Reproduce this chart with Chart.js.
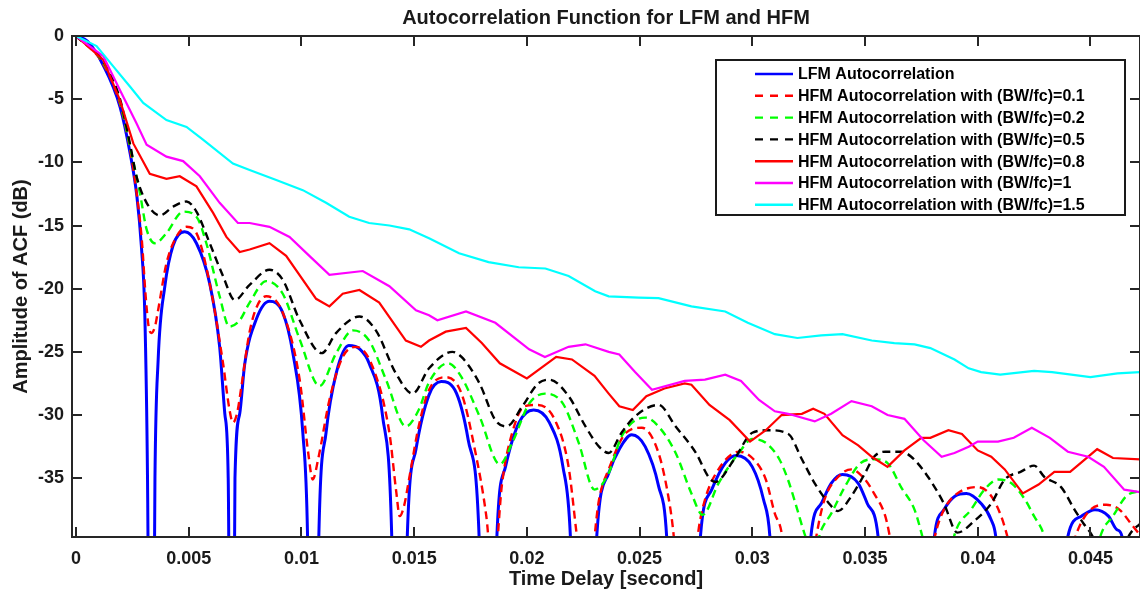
<!DOCTYPE html>
<html>
<head>
<meta charset="utf-8">
<script src="https://cdn.jsdelivr.net/npm/chart.js@4.4.1/dist/chart.umd.min.js"></script>
<style>
  html, body { margin: 0; padding: 0; background: #fff; }
</style>
</head>
<body>
<canvas id="acf" width="1140" height="599"></canvas>
<script>
// every series is a list of [time delay in ms, amplitude in dB]
// values below the axis (-39.65) stand for the nulls that leave the plot
const lfm = [[0,0],[0.5,-0.4],[1.2,-2.3],[1.95,-5.6],[2.4,-9.3],[2.7,-12.7],[2.9,-16.7],[3.05,-22],[3.17,-35],[3.34,-75],[3.5,-35],
  [3.64,-25.7],[3.94,-19.8],[4.3,-16.6],[4.82,-15.5],[5.34,-16.4],[5.93,-19.6],[6.37,-24.6],[6.6,-29.9],[6.75,-35],[6.9,-75],
  [7.05,-35],[7.26,-29.9],[7.48,-26],[8.0,-22.4],[8.58,-21.0],[9.17,-21.9],[9.62,-25.1],[10.06,-31.4],[10.27,-39.6],[10.52,-75],
  [10.77,-39.6],[11.09,-31.4],[11.54,-26.7],[12.1,-24.5],[12.6,-24.8],[13.0,-25.9],[13.6,-30.1],[14.0,-39.3],[14.35,-75],
  [14.7,-39.3],[15.08,-32.7],[15.66,-28.4],[16.2,-27.35],[16.8,-28.0],[17.4,-32.0],[17.88,-39.6],[18.3,-75],[18.67,-39.6],
  [19.05,-34.1],[19.65,-30.6],[20.3,-29.6],[21.0,-30.6],[21.6,-34.1],[21.93,-39.6],[22.5,-75],[23.1,-39.6],[23.63,-34.6],
  [24.1,-32.7],[24.65,-31.56],[25.25,-32.5],[25.84,-35.6],[26.2,-39.6],[26.95,-75],[27.7,-39.6],[28.2,-35.9],[28.8,-33.8],
  [29.3,-33.2],[30.0,-34.1],[30.5,-36.7],[30.78,-39.6],[31.7,-75],[32.6,-39.6],[33.06,-37.0],[33.5,-35.4],[34.0,-34.7],
  [34.7,-35.4],[35.1,-37.0],[35.58,-39.6],[36.8,-75],[38.08,-39.6],[38.5,-37.5],[39.0,-36.4],[39.5,-36.2],[40.15,-37.0],
  [40.6,-38.3],[40.8,-39.6],[42.4,-75],[44.0,-39.6],[44.6,-38.0],[45.2,-37.5],[45.8,-38.0],[46.2,-39.1],[46.4,-39.6],[46.8,-75]];

const hfm01 = [[0,0],[1.2,-2.2],[1.95,-5.4],[2.4,-9.0],[2.7,-12.6],[2.92,-16.2],[3.08,-20.4],[3.22,-23.0],[3.35,-23.5],[3.5,-23.0],
  [3.64,-21.7],[4.01,-18.0],[4.45,-15.9],[4.9,-15.1],[5.34,-15.6],[5.93,-19.6],[6.52,-25.9],[6.8,-29.5],[6.96,-30.6],[7.15,-29.8],
  [7.33,-27.8],[7.7,-23.4],[8.05,-21.3],[8.44,-20.6],[9.17,-21.9],[9.92,-27.2],[10.3,-33.0],[10.5,-35.1],[10.75,-33.4],
  [11.24,-28.8],[11.83,-25.4],[12.42,-24.6],[13.16,-26.2],[13.9,-31.4],[14.2,-36.0],[14.36,-38.0],[14.55,-37.2],[14.78,-35.0],
  [15.2,-30.9],[15.66,-28.0],[16.4,-27.0],[17.1,-28.3],[17.7,-32.8],[18.2,-38.0],[18.5,-43],[18.9,-35.4],[19.35,-31.4],
  [19.9,-29.3],[20.5,-29.2],[21.3,-30.6],[21.85,-34.1],[22.2,-39.3],[22.6,-45],[23.2,-36.7],[23.63,-34.3],[24.4,-31.4],
  [25.1,-31.0],[25.84,-33.0],[26.3,-36.7],[26.5,-39.3],[27.0,-50],[27.6,-39.3],[27.9,-36.7],[28.5,-34.3],[29.4,-32.9],
  [30.0,-33.4],[30.6,-35.1],[31.0,-37.8],[31.3,-39.3],[32.0,-50],[32.84,-39.6],[33.2,-36.7],[33.8,-34.9],[34.4,-34.3],
  [35.0,-35.1],[35.4,-36.2],[35.9,-38.0],[36.1,-39.6],[37.1,-50],[38.1,-39.6],[38.5,-37.5],[39.1,-36.2],[40.0,-35.7],
  [40.6,-36.4],[41.04,-38.0],[41.3,-39.5],[42.8,-50],[44.4,-39.3],[45.0,-37.5],[45.7,-37.1],[46.3,-37.5],[46.8,-38.6],[47.2,-39.5]];

const hfm02 = [[0,0],[1.2,-2.1],[1.95,-5.2],[2.4,-8.8],[2.83,-12.4],[3.13,-15.3],[3.5,-16.4],[4.01,-15.6],[4.75,-13.9],[5.34,-14.3],
  [5.78,-16.4],[6.37,-20.6],[6.8,-23.0],[7.26,-22.5],[7.7,-21.1],[8.44,-19.4],[9.17,-20.4],[9.92,-24.0],[10.8,-27.7],[11.54,-25.1],
  [12.28,-23.3],[13.0,-24.1],[13.75,-27.2],[14.63,-30.9],[15.2,-29.6],[15.66,-27.4],[16.5,-25.9],[17.1,-27.0],[17.9,-30.1],
  [18.8,-33.9],[19.35,-32.2],[20.1,-29.1],[20.8,-28.3],[21.6,-29.1],[22.3,-32.2],[23.0,-35.9],[23.63,-34.6],[24.2,-31.7],
  [25.25,-30.2],[25.84,-30.9],[26.6,-33.0],[27.3,-36.2],[27.8,-37.9],[28.5,-35.4],[29.4,-33.0],[30.0,-31.9],[30.6,-32.2],
  [31.2,-33.5],[31.6,-35.2],[32.0,-37.5],[32.3,-39.3],[32.7,-41],[33.06,-39.1],[33.5,-37.8],[34.1,-35.7],[34.8,-33.8],
  [35.4,-33.5],[36.0,-33.8],[36.6,-35.7],[37.2,-37.5],[37.5,-39.3],[38.3,-45],[39.0,-39.3],[39.7,-37.5],[40.3,-35.9],
  [40.9,-35.1],[41.5,-35.4],[42.1,-36.7],[42.5,-38.0],[42.9,-39.3],[44.2,-48],[45.5,-39.3],[46.0,-38.0],[46.6,-36.4],[47.2,-36.0]];

const hfm05 = [[0,0],[1.2,-2.0],[1.95,-5.0],[2.4,-8.6],[2.68,-11.1],[3.13,-13.2],[3.72,-14.2],[4.31,-13.5],[4.9,-13.1],[5.34,-13.9],
  [5.93,-16.4],[6.52,-19.0],[7.04,-20.9],[7.7,-19.7],[8.58,-18.5],[9.17,-19.3],[9.92,-22.5],[10.9,-25.1],[11.54,-23.5],
  [12.57,-22.2],[13.3,-23.3],[14.19,-26.7],[14.93,-28.3],[15.66,-26.3],[16.7,-25.0],[17.1,-25.4],[17.9,-27.5],[18.6,-30.4],
  [19.1,-30.9],[19.8,-29.3],[20.5,-27.5],[21.0,-27.2],[21.85,-28.5],[22.6,-30.9],[23.2,-32.5],[23.63,-33.0],[24.2,-31.4],
  [24.8,-30.1],[25.84,-29.2],[26.6,-30.9],[27.5,-33.0],[28.06,-34.9],[28.35,-35.3],[29.2,-33.5],[30.0,-31.4],[30.7,-31.2],
  [31.6,-31.5],[32.2,-33.5],[32.77,-35.4],[33.36,-36.9],[33.8,-37.6],[34.4,-36.4],[35.0,-34.6],[35.4,-33.3],[35.9,-32.9],
  [36.6,-32.9],[37.05,-33.3],[37.8,-34.9],[38.5,-37.0],[39.1,-39.3],[39.9,-38.3],[40.6,-37.0],[41.2,-35.1],[41.9,-34.5],
  [42.5,-34.0],[42.96,-34.9],[43.7,-35.7],[44.3,-37.5],[44.7,-38.6],[45.0,-39.3],[45.9,-42],[46.8,-39.3],[47.2,-38.6]];

const hfm08 = [[0,0],[1.21,-1.9],[1.95,-5.1],[2.54,-8.5],[3.27,-10.9],[4.01,-11.3],[4.6,-11.1],[5.34,-11.9],[6.08,-14.0],
  [6.67,-15.9],[7.26,-17.1],[7.7,-16.9],[8.58,-16.4],[9.32,-17.4],[10.65,-20.8],[11.24,-21.4],[11.83,-20.4],[12.57,-20.1],
  [13.45,-21.1],[14.63,-24.1],[15.3,-24.6],[15.66,-24.1],[16.4,-23.4],[17.3,-23.1],[18.0,-24.3],[18.8,-25.9],[20.0,-27.1],
  [21.3,-25.4],[22.0,-25.6],[23.0,-26.9],[23.63,-28.3],[24.1,-29.3],[24.7,-29.6],[25.3,-28.5],[26.1,-27.9],[27.0,-27.5],
  [27.3,-27.6],[28.1,-29.2],[29.0,-30.4],[29.9,-32.1],[30.6,-31.2],[31.3,-30.0],[32.2,-29.9],[32.7,-29.5],[33.2,-29.9],
  [34.0,-31.6],[34.7,-32.4],[35.3,-33.3],[36.0,-34.1],[36.75,-32.8],[37.5,-31.8],[37.9,-31.8],[38.7,-31.2],[39.3,-31.5],
  [40.0,-32.8],[40.6,-33.3],[41.2,-34.3],[42.0,-36.2],[42.7,-35.5],[43.4,-34.5],[44.1,-34.5],[45.3,-32.7],[46.0,-33.4],[47.2,-33.5]];

const hfm1 = [[0,0],[1.21,-1.6],[1.95,-4.3],[2.68,-6.9],[3.13,-8.6],[4.01,-9.55],[4.75,-9.9],[5.49,-11.1],[6.37,-13.2],
  [7.18,-14.8],[7.7,-14.8],[8.58,-15.1],[9.47,-15.9],[10.35,-17.4],[11.24,-18.9],[12.72,-18.6],[13.9,-19.8],[15.08,-21.7],
  [15.66,-22.1],[16.03,-22.5],[17.3,-21.8],[18.6,-22.7],[20.1,-24.8],[20.8,-25.4],[21.85,-24.6],[22.6,-24.4],[23.63,-25.0],
  [24.1,-25.2],[24.8,-26.6],[25.55,-28.0],[27.0,-27.3],[27.9,-27.2],[28.8,-26.8],[29.5,-27.3],[30.3,-28.8],[31.0,-29.7],
  [31.59,-29.9],[32.77,-30.5],[33.5,-29.9],[34.4,-28.9],[35.3,-29.3],[36.0,-30.0],[36.75,-30.3],[37.6,-32.0],[38.4,-33.3],
  [38.97,-33.0],[39.6,-32.5],[40.0,-32.1],[40.9,-32.1],[41.6,-31.8],[42.4,-31.0],[43.2,-31.8],[44.0,-32.9],[44.9,-33.3],
  [45.6,-34.1],[46.5,-35.9],[47.2,-36.1]];

const hfm15 = [[0,0],[0.91,-0.8],[1.65,-2.4],[2.39,-4.0],[2.98,-5.3],[4.01,-6.65],[4.9,-7.2],[5.63,-8.2],[6.96,-10.1],
  [7.7,-10.6],[8.88,-11.4],[10.06,-12.2],[11.09,-13.2],[12.12,-14.3],[13.0,-14.8],[13.9,-15.0],[14.78,-15.3],[15.66,-16.0],
  [16.99,-17.2],[18.3,-17.9],[19.64,-18.3],[20.82,-18.4],[21.85,-19.0],[23.03,-20.2],[23.63,-20.6],[24.96,-20.7],
  [25.84,-20.75],[27.3,-21.4],[28.8,-21.8],[29.8,-22.7],[31.0,-23.6],[32.0,-23.9],[33.06,-23.7],[34.0,-23.6],[35.3,-24.1],
  [36.3,-24.3],[37.2,-24.4],[37.9,-24.7],[38.97,-25.6],[39.6,-26.3],[40.15,-26.6],[41.0,-26.8],[42.5,-26.5],[43.3,-26.6],
  [45.0,-27.0],[46.2,-26.7],[47.2,-26.6]];

const labels = [
  'LFM Autocorrelation',
  'HFM Autocorrelation with (BW/fc)=0.1',
  'HFM Autocorrelation with (BW/fc)=0.2',
  'HFM Autocorrelation with (BW/fc)=0.5',
  'HFM Autocorrelation with (BW/fc)=0.8',
  'HFM Autocorrelation with (BW/fc)=1',
  'HFM Autocorrelation with (BW/fc)=1.5'
];
const xTicks = [0, 0.005, 0.01, 0.015, 0.02, 0.025, 0.03, 0.035, 0.04, 0.045];
const yTicks = [-35, -30, -25, -20, -15, -10, -5, 0];

const titleText = 'Autocorrelation Function for LFM and HFM';
const xTitle = 'Time Delay [second]';
const yTitle = 'Amplitude of ACF (dB)';

// looks
const seriesData = [lfm, hfm01, hfm02, hfm05, hfm08, hfm1, hfm15];
const colors = ['#0000ff', '#ff0000', '#00ff00', '#000000', '#ff0000', '#ff00ff', '#00ffff'];
const dashes = [[], [8, 5], [8, 5], [8, 5], [], [], []];
const widths = [3, 2.4, 2.4, 2.4, 2.2, 2.2, 2.2];
const smooth = [true, true, true, true, false, false, false];
const axisColor = '#262626';
const fontFamily = '"Liberation Sans", Arial, Helvetica, sans-serif';

Chart.defaults.font.family = fontFamily;

const datasets = seriesData.map((pts, i) => ({
  label: labels[i],
  data: pts.map(p => ({ x: p[0] / 1000, y: p[1] })),
  borderColor: colors[i],
  borderDash: dashes[i],
  borderWidth: widths[i],
  pointRadius: 0,
  fill: false,
  tension: 0,
  cubicInterpolationMode: smooth[i] ? 'monotone' : 'default',
  order: 10 - i
}));

// matlab-like box: frame, inward ticks, titles and the legend
const frame = {
  id: 'frame',
  afterDatasetsDraw(chart) {
    const { ctx, chartArea: a, scales: { x, y } } = chart;
    ctx.save();
    ctx.strokeStyle = axisColor;
    ctx.lineWidth = 2;
    ctx.strokeRect(a.left, a.top, a.right - a.left, a.bottom - a.top);
    ctx.beginPath();
    xTicks.forEach(v => {
      const px = Math.round(x.getPixelForValue(v));
      ctx.moveTo(px, a.bottom); ctx.lineTo(px, a.bottom - 10);
      ctx.moveTo(px, a.top); ctx.lineTo(px, a.top + 10);
    });
    yTicks.forEach(v => {
      const py = Math.round(y.getPixelForValue(v));
      ctx.moveTo(a.left, py); ctx.lineTo(a.left + 10, py);
      ctx.moveTo(a.right, py); ctx.lineTo(a.right - 10, py);
    });
    ctx.stroke();

    ctx.fillStyle = '#1a1a1a';
    ctx.textAlign = 'center';
    ctx.textBaseline = 'middle';
    ctx.font = 'bold 20px ' + fontFamily;
    const cx = (a.left + a.right) / 2;
    ctx.fillText(titleText, cx, 18);
    ctx.fillText(xTitle, cx, 579);
    ctx.save();
    ctx.translate(21, (a.top + a.bottom) / 2);
    ctx.rotate(-Math.PI / 2);
    ctx.fillText(yTitle, 0, 0);
    ctx.restore();

    // legend
    const lx = 716, ly = 60, lw = 409, lh = 155;
    ctx.fillStyle = '#fff';
    ctx.fillRect(lx, ly, lw, lh);
    ctx.strokeStyle = '#1a1a1a';
    ctx.lineWidth = 2;
    ctx.strokeRect(lx, ly, lw, lh);
    ctx.font = 'bold 16px ' + fontFamily;
    ctx.textAlign = 'left';
    chart.data.datasets.forEach((ds, i) => {
      const cy = 74 + i * 21.8;
      ctx.strokeStyle = ds.borderColor;
      ctx.lineWidth = 2.4;
      ctx.setLineDash(ds.borderDash.length ? [8, 7] : []);
      ctx.beginPath();
      ctx.moveTo(755, cy);
      ctx.lineTo(793, cy);
      ctx.stroke();
      ctx.setLineDash([]);
      ctx.fillStyle = '#000';
      ctx.fillText(ds.label, 798, cy + 1);
    });
    ctx.restore();
  }
};

const acfConfig = {
  type: 'line',
  data: { datasets },
  options: {
    responsive: false,
    animation: false,
    devicePixelRatio: 1,
    layout: { padding: { top: 36, right: -3, left: 0, bottom: 0 } },
    plugins: {
      legend: { display: false },
      title: { display: false },
      tooltip: { enabled: false }
    },
    scales: {
      x: {
        type: 'linear',
        min: -0.00018,
        max: 0.0472,
        afterBuildTicks: s => { s.ticks = xTicks.map(value => ({ value })); },
        afterFit: s => { s.height = 62; },
        grid: { display: false, drawTicks: false },
        border: { display: false },
        ticks: {
          padding: 11,
          color: '#1a1a1a',
          font: { size: 18, weight: 'bold' },
          maxRotation: 0,
          callback: v => v === 0 ? '0' : String(+v.toFixed(3))
        }
      },
      y: {
        type: 'linear',
        min: -39.65,
        max: 0,
        afterBuildTicks: s => { s.ticks = yTicks.map(value => ({ value })); },
        afterFit: s => { s.width = 72; },
        grid: { display: false, drawTicks: false },
        border: { display: false },
        ticks: {
          padding: 8,
          color: '#1a1a1a',
          font: { size: 18, weight: 'bold' },
          callback: v => String(v)
        }
      }
    }
  },
  plugins: [frame]
};

const acfCtx = document.getElementById('acf');
window.acfChart = new Chart(acfCtx, acfConfig);
</script>
</body>
</html>
